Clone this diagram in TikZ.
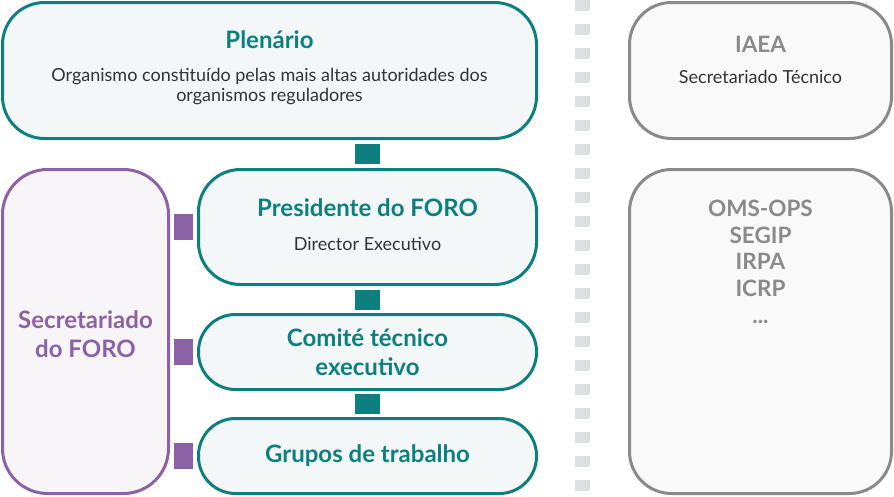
\documentclass[tikz,border=0pt]{standalone}
\usepackage{fontspec}
\setmainfont{Lato}
\usetikzlibrary{calc}
\definecolor{foroteal}{HTML}{0E7F7F}
\definecolor{tealbg}{HTML}{F3F7F8}
\definecolor{foropurple}{HTML}{8C62A6}
\definecolor{purplebg}{HTML}{F8F5F8}
\definecolor{orggray}{HTML}{8A8A8A}
\definecolor{graybg}{HTML}{F9F9F9}
\definecolor{dotgray}{HTML}{DDE0E0}
\definecolor{bodytext}{HTML}{333333}
\begin{document}
\begin{tikzpicture}[x=1pt, y=-1pt]
    \tikzset{
      box/.style={draw, line width=3pt, rounded corners=42pt, inner sep=0pt, outer sep=0pt},
      tealbox/.style={box, draw=foroteal, fill=tealbg},
      purplebox/.style={box, draw=foropurple, fill=purplebg},
      graybox/.style={box, draw=orggray, fill=graybg},
      head/.style={anchor=base, align=center, font=\fontsize{24}{28.5}\selectfont\bfseries},
      sub/.style={anchor=base, align=center, text=bodytext, font=\fontsize{18}{20.7}\selectfont},
      link/.style={inner sep=0pt, minimum width=25pt, minimum height=20pt, fill=foroteal},
      side/.style={inner sep=0pt, minimum width=19pt, minimum height=26pt, fill=foropurple}
    }
    \useasboundingbox (0,0) rectangle (894,496);
    % left column : FORO bodies
    \node[tealbox, minimum width=534pt, minimum height=136pt] (plen) at (269.5,70.5) {};
    \node[head, text=foroteal] (plentitle) at (269.5,48) {Plenário};
    \node[sub] (plentext) at (269.5,101.7) {Organismo constituído pelas mais altas autoridades dos\\organismos reguladores};
    \node[tealbox, minimum width=338pt, minimum height=115pt] (pres) at (367.5,227) {};
    \node[head, text=foroteal] (prestitle) at (367.5,216) {Presidente do FORO};
    \node[sub] (prestext) at (367.5,250) {Director Executivo};
    \node[tealbox, rounded corners=37pt, minimum width=338pt, minimum height=75pt] (com) at (367.5,352) {};
    \node[head, text=foroteal] (comtitle) at (367.5,375) {Comité técnico\\executivo};
    \node[tealbox, rounded corners=37pt, minimum width=338pt, minimum height=75pt] (grp) at (367.5,456) {};
    \node[head, text=foroteal] (grptitle) at (367.5,462) {Grupos de trabalho};
    % secretariat on the far left
    \node[purplebox, rounded corners=45pt, minimum width=166pt, minimum height=324pt] (sec) at (85.5,331.5) {};
    \node[head, text=foropurple] (sectitle) at (85.5,357) {Secretariado\\do FORO};
    % links between the bodies
    \node[link] (l1) at ($(plen.south -| pres.north)!0.5!(pres.north)$) {};
    \node[link] (l2) at ($(pres.south)!0.5!(com.north)$) {};
    \node[link] (l3) at ($(com.south)!0.5!(grp.north)$) {};
    \foreach \b in {pres,com,grp}
      \node[side] (s\b) at ($(sec.east |- \b.west)!0.5!(\b.west)$) {};
    % dotted separator
    \foreach \k in {0,...,20}
      \fill[dotgray] (575,24*\k) rectangle (590,24*\k+11);
    % right column : partners
    \node[graybox, minimum width=262pt, minimum height=136pt] (iaea) at (760.5,70.5) {};
    \node[head, text=orggray, font=\fontsize{22.5}{26.6}\selectfont\bfseries] (iaeatitle) at (760.5,52) {IAEA};
    \node[sub] (iaeatext) at (760.5,83) {Secretariado Técnico};
    \node[graybox, minimum width=262pt, minimum height=324pt] (oms) at (760.5,331.5) {};
    \node[head, text=orggray, font=\fontsize{22.5}{26.6}\selectfont\bfseries] (omslist) at (760.5,323) {OMS-OPS\\SEGIP\\IRPA\\ICRP\\...};
\end{tikzpicture}
\end{document}
